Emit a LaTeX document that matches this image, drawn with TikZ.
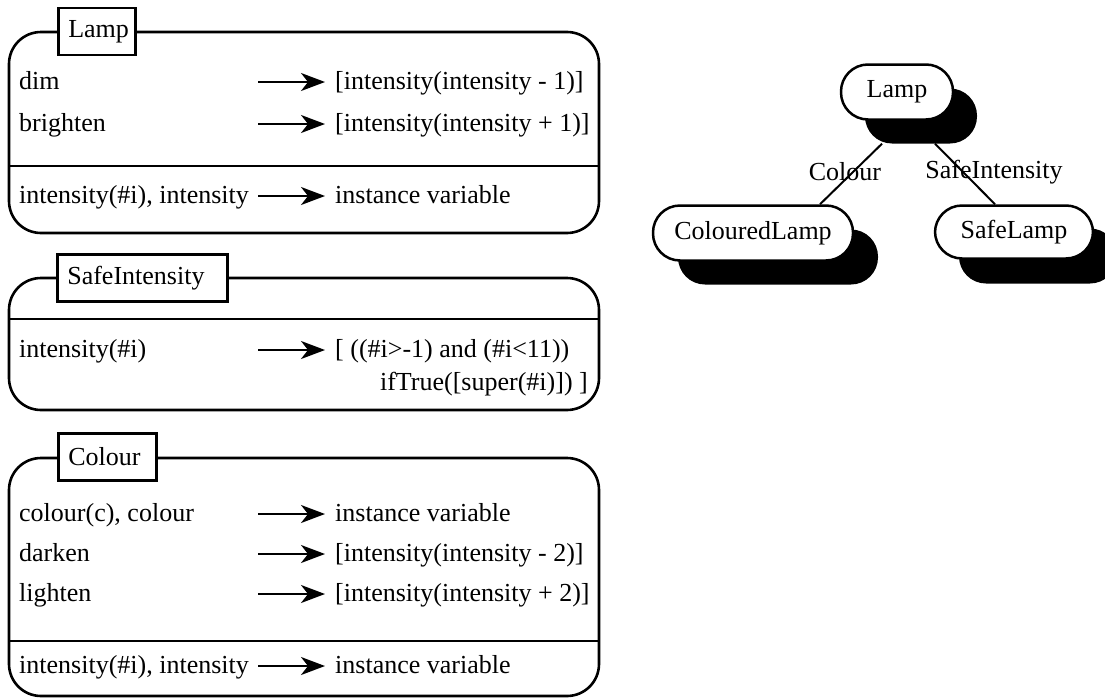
\documentclass[tikz,border=0pt]{standalone}
\usepackage{fontspec}
\setmainfont{Liberation Serif}
\usetikzlibrary{arrows.meta,calc}
\begin{document}
\begin{tikzpicture}[x=1pt,y=-1pt,
  font=\fontsize{26}{30}\selectfont,
  frame/.style={line width=2.6pt, rounded corners=32pt},
  divider/.style={line width=2.6pt},
  tag/.style={draw, fill=white, line width=2.6pt, inner xsep=10pt, inner ysep=0pt,
              minimum height=47pt, align=left, anchor=west},
  lefttxt/.style={anchor=base west, inner sep=0pt},
  righttxt/.style={anchor=base west, inner sep=0pt},
  arr/.style={line width=2pt, -{Stealth[length=24pt,width=18pt,inset=7pt]}},
  pill/.style={draw, line width=2.5pt, fill=white, rounded corners=27pt,
               minimum height=55pt, inner sep=0pt},
  pillshadow/.style={fill=black, rounded corners=27pt, minimum height=55pt, inner sep=0pt},
  edge/.style={line width=2pt},
  edgelabel/.style={inner sep=0pt}]
\useasboundingbox (0,0) rectangle (1105,699);

% ---------------- Lamp ----------------
\draw[frame] (9,32) rectangle (599,233);
\draw[divider] (9,166) -- (599,166);
\node[tag, text width=57pt] (lampTag) at (57,31.5) {Lamp};
\node[lefttxt]  (dimL) at (19,89) {dim};
\node[righttxt] (dimR) at (335,89) {[intensity(intensity - 1)]};
\node[lefttxt]  (brL) at (19,131) {brighten};
\node[righttxt] (brR) at (335,131) {[intensity(intensity + 1)]};
\node[lefttxt]  (ivL) at (19,203) {intensity(\#i), intensity};
\node[righttxt] (ivR) at (335,203) {instance variable};
\foreach \n in {dimR,brR,ivR}
  \draw[arr] ([xshift=-77pt,yshift=7pt]\n.base west) -- ([xshift=-10pt,yshift=7pt]\n.base west);

% ---------------- SafeIntensity ----------------
\draw[frame] (9,278) rectangle (599,410);
\draw[divider] (9,319) -- (599,319);
\node[tag, text width=150pt] (siTag) at (56,278) {SafeIntensity};
\node[lefttxt]  (siL) at (19,357) {intensity(\#i)};
\node[righttxt] (siR) at (335,357) {[ ((\#i>-1) and (\#i<11))};
\node[anchor=base east, inner sep=0pt] (siR2) at (588,390) {ifTrue([super(\#i)]) ]};
\draw[arr] ([xshift=-77pt,yshift=7pt]siR.base west) -- ([xshift=-10pt,yshift=7pt]siR.base west);

% ---------------- Colour ----------------
\draw[frame] (9,458) rectangle (599,696);
\draw[divider] (9,641) -- (599,641);
\node[tag, text width=78pt] (colTag) at (57,457) {Colour};
\node[lefttxt]  (cL) at (19,521) {colour(c), colour};
\node[righttxt] (cR) at (335,521) {instance variable};
\node[lefttxt]  (dkL) at (19,561) {darken};
\node[righttxt] (dkR) at (335,561) {[intensity(intensity - 2)]};
\node[lefttxt]  (ltL) at (19,601) {lighten};
\node[righttxt] (ltR) at (335,601) {[intensity(intensity + 2)]};
\node[lefttxt]  (iv2L) at (19,673) {intensity(\#i), intensity};
\node[righttxt] (iv2R) at (335,673) {instance variable};
\foreach \n in {cR,dkR,ltR,iv2R}
  \draw[arr] ([xshift=-77pt,yshift=7pt]\n.base west) -- ([xshift=-10pt,yshift=7pt]\n.base west);

% ---------------- Inheritance tree ----------------
\node[pillshadow, minimum width=112pt] (lampS) at (921,116) {};
\node[pill, minimum width=112pt] (lamp) at (897,92) {Lamp};
\node[pillshadow, minimum width=200pt] (colS) at (778,257) {};
\node[pill, minimum width=200pt] (col) at (753,233) {ColouredLamp};
\node[pillshadow, minimum width=158pt] (safeS) at (1038,256) {};
\node[pill, minimum width=158pt, minimum height=53pt] (safe) at (1014,232) {SafeLamp};

\node[edgelabel] (lblC) at (845,172) {Colour};
\node[edgelabel] (lblS) at (994,172) {SafeIntensity};
\draw[edge] ([xshift=-39pt]lampS.south) -- ([xshift=67pt]col.north);
\draw[edge] ([xshift=14pt]lampS.south) -- ([xshift=-19pt]safe.north);
\end{tikzpicture}
\end{document}
